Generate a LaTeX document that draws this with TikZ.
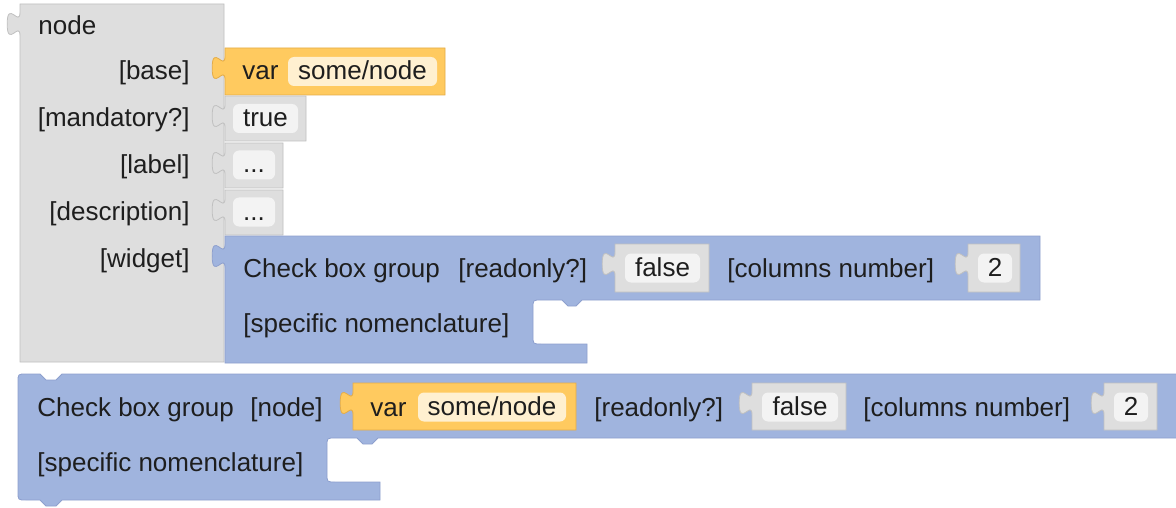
\documentclass[tikz,border=0pt]{standalone}
\usepackage{fontspec}
\setmainfont{Liberation Sans}
\usetikzlibrary{positioning}
\definecolor{blockgrey}{RGB}{222,222,222}
\definecolor{greyline}{RGB}{192,192,192}
\definecolor{fieldgrey}{RGB}{243,243,243}
\definecolor{blockyellow}{RGB}{255,202,95}
\definecolor{yellowline}{RGB}{228,172,72}
\definecolor{fieldcream}{RGB}{255,240,208}
\definecolor{blockblue}{RGB}{160,180,222}
\definecolor{blueline}{RGB}{142,160,206}
\definecolor{inktext}{RGB}{30,30,30}

% output tab on the left edge of a block, going down from (#1,#2)
\newcommand{\tabdown}[2]{-- (#1,#2) .. controls (#1,#2+16) and (#1-12.8,#2-12.8) .. (#1-12.8,#2+12) .. controls (#1-12.8,#2+36.8) and (#1,#2+8) .. (#1,#2+24)}
% value block with an output tab: style, x1, y1, x2, y2
\newcommand{\valblock}[5]{\draw[#1] (#2,#3) \tabdown{#2}{#3+8} -- (#2,#5) -- (#4,#5) -- (#4,#3) -- cycle;}

\begin{document}
\begin{tikzpicture}[
    x=1pt, y=-1pt, line width=0.8pt,
    txt/.style={font=\fontsize{26}{30}\selectfont, text=inktext, inner sep=0pt},
    lbl/.style={txt, anchor=base west},
    rlbl/.style={txt, anchor=base east},
    greyblk/.style={fill=blockgrey, draw=greyline},
    yellowblk/.style={fill=blockyellow, draw=yellowline},
    blueblk/.style={fill=blockblue, draw=blueline},
    field/.style={txt, fill=#1, rounded corners=6pt, minimum height=29pt,
                  text height=20pt, text depth=4pt}
]
    \useasboundingbox (0,0) rectangle (1176,508);
    \fill[white] (0,0) rectangle (1176,508);

    % node block
    \draw[greyblk] (20,4) \tabdown{20}{12} -- (20,362) -- (224,362) -- (224,4) -- cycle;
    \node[lbl] (nodehead) at (38,35) {node};
    \node[rlbl] (baselbl) at (190,80) {[base]};
    \node[rlbl] (mandlbl) at (190,127) {[mandatory?]};
    \node[rlbl] (labellbl) at (190,174) {[label]};
    \node[rlbl] (desclbl) at (190,221) {[description]};
    \node[rlbl] (widgetlbl) at (190,267) {[widget]};

    % inputs of the node block
    \valblock{yellowblk}{225}{48}{445}{95}
    \node[lbl] (basevar) at (242,80) {var};
    \node[field=fieldcream, minimum width=149pt] (basename) at (362.5,71.5) {some/node};
    \valblock{greyblk}{225}{96}{306}{141}
    \node[field=fieldgrey, minimum width=65pt] (mandval) at (265.5,118.5) {true};
    \valblock{greyblk}{225}{143}{283}{188}
    \node[field=fieldgrey, minimum width=42pt] (labelval) at (254,165) {...};
    \valblock{greyblk}{225}{190}{283}{235}
    \node[field=fieldgrey, minimum width=42pt] (descval) at (254,212) {...};

    % widget block
    \draw[blueblk] (225,236) \tabdown{225}{244} -- (225,363) -- (587,363) -- (587,344)
        -- (541,344) .. controls (533,344) .. (533,336) -- (533,308)
        .. controls (533,300) .. (541,300) -- (562,300) -- (568,306) -- (576,306)
        -- (582,300) -- (1040,300) -- (1040,236) -- cycle;
    \node[lbl] (wtitle) at (243,277) {Check box group};
    \node[lbl] (wread) at (458,277) {[readonly?]};
    \valblock{greyblk}{615}{244}{709}{292}
    \node[field=fieldgrey, minimum width=75pt] (wreadval) at (662.5,268) {false};
    \node[lbl] (wcols) at (727,277) {[columns number]};
    \valblock{greyblk}{968}{244}{1020}{292}
    \node[field=fieldgrey, minimum width=34pt] (wcolsval) at (995,268) {2};
    \node[lbl] (wnomen) at (243,332) {[specific nomenclature]};

    % stand-alone check box group
    \draw[blueblk] (18,382) .. controls (18,374) .. (26,374) -- (40,374) -- (46,380)
        -- (56,380) -- (62,374) -- (1190,374) -- (1190,438) -- (378,438) -- (372,444)
        -- (363,444) -- (357,438) -- (335,438) .. controls (327,438) .. (327,446)
        -- (327,474) .. controls (327,482) .. (335,482) -- (380,482) -- (380,500)
        -- (62,500) -- (56,506) -- (46,506) -- (40,500) -- (26,500)
        .. controls (18,500) .. (18,492) -- cycle;
    \node[lbl] (ctitle) at (37,416) {Check box group};
    \node[lbl] (cnode) at (250,416) {[node]};
    \valblock{yellowblk}{353}{383}{576}{430}
    \node[lbl] (cvar) at (370,416) {var};
    \node[field=fieldcream, minimum width=148pt] (cvarname) at (492,407) {some/node};
    \node[lbl] (cread) at (594,416) {[readonly?]};
    \valblock{greyblk}{752}{383}{846}{430}
    \node[field=fieldgrey, minimum width=76pt] (creadval) at (800,407) {false};
    \node[lbl] (ccols) at (863,416) {[columns number]};
    \valblock{greyblk}{1104}{383}{1157}{430}
    \node[field=fieldgrey, minimum width=34pt] (ccolsval) at (1131,407) {2};
    \node[lbl] (cnomen) at (37,471) {[specific nomenclature]};
\end{tikzpicture}
\end{document}
